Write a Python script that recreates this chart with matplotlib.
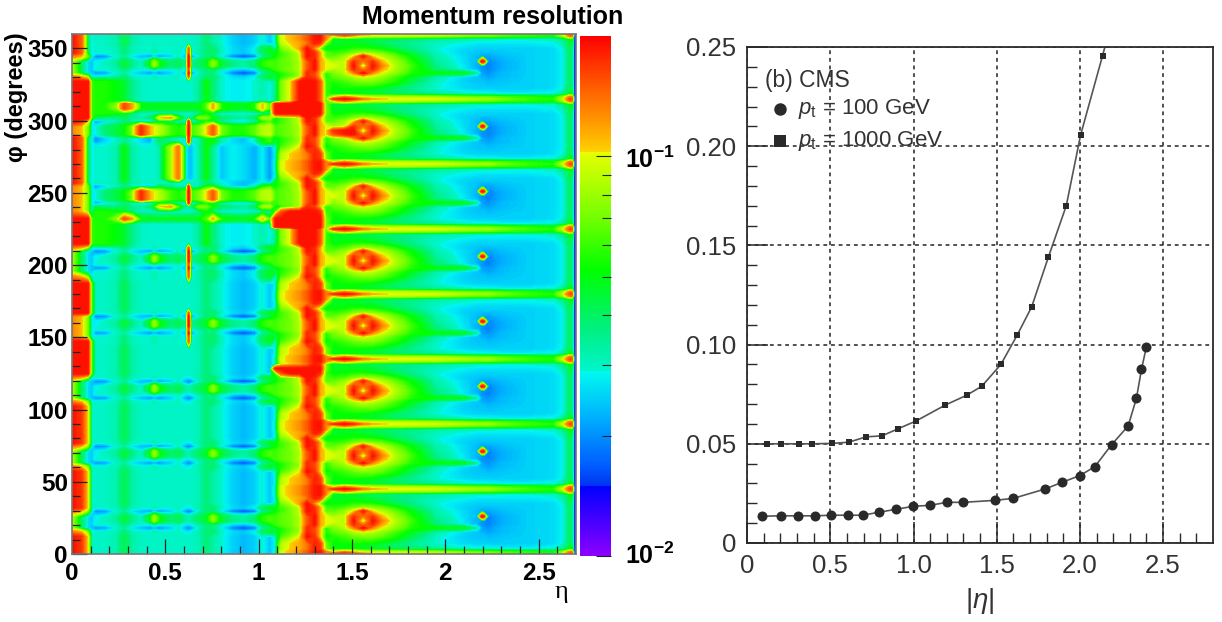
import numpy as np
import matplotlib
matplotlib.use("Agg")
import matplotlib.pyplot as plt
from matplotlib.cm import ScalarMappable
from matplotlib.colors import LinearSegmentedColormap, LogNorm
from matplotlib.ticker import FixedLocator, NullFormatter

plt.rcParams["font.family"] = ["Liberation Sans", "DejaVu Sans"]
plt.rcParams["mathtext.fontset"] = "custom"
plt.rcParams["mathtext.rm"] = "Liberation Sans"
plt.rcParams["mathtext.it"] = "Liberation Sans:italic"
plt.rcParams["mathtext.bf"] = "Liberation Sans:bold"

# ---- right panel ----
circle_eta = [0.09, 0.205, 0.305, 0.405, 0.505, 0.605, 0.696, 0.79, 0.896, 0.998, 1.1, 1.2,
              1.3, 1.49, 1.6, 1.79, 1.89, 2.0, 2.09, 2.19, 2.29, 2.34, 2.37, 2.4]
circle_res = [0.0135, 0.0137, 0.0137, 0.0137, 0.014, 0.014, 0.014, 0.0155, 0.017, 0.0185, 0.019,
              0.0205, 0.0205, 0.0215, 0.0225, 0.0272, 0.0305, 0.034, 0.0385, 0.0495, 0.059,
              0.073, 0.0875, 0.099]
square_eta = [0.12, 0.205, 0.31, 0.39, 0.51, 0.61, 0.715, 0.81, 0.905, 1.015, 1.19, 1.32, 1.41,
              1.525, 1.623, 1.71, 1.81, 1.918, 2.004, 2.136]
square_res = [0.05, 0.05, 0.05, 0.05, 0.0502, 0.0508, 0.0535, 0.054, 0.0575, 0.0615, 0.0695,
              0.0745, 0.079, 0.09, 0.1048, 0.119, 0.144, 0.17, 0.2056, 0.2456]

# ---- left panel: eta nodes of each detector region ----
left_eta = [0.0, 0.05, 0.085, 0.105]
barrel_eta = [0.125, 0.18, 0.24, 0.28, 0.32, 0.37, 0.42, 0.44, 0.47, 0.53, 0.57, 0.61, 0.625,
              0.64, 0.68, 0.72, 0.755, 0.80, 0.86, 0.92, 0.98, 1.02, 1.06]
trans_eta = [1.09, 1.12, 1.17, 1.22, 1.26, 1.30, 1.33, 1.36]
endcap_eta = [1.40, 1.46, 1.51, 1.56, 1.61, 1.66, 1.73, 1.82, 1.95, 2.10, 2.17, 2.195, 2.205,
              2.23, 2.30, 2.45, 2.58, 2.63, 2.67, 2.68]
edge_eta = [2.69, 2.70]
edge_res = [14, 14]

# phi nodes inside one 45 degree sector
phi_offsets = [0, 1.5, 3.5, 7, 12, 15.5, 18, 20.5, 23, 26, 29.5, 32, 35, 38.5, 41.5, 43.5]
sector_starts = [0, 45, 90, 135, 180, 225, 270, 315]

# resolution x 1000, one profile per kind of phi row
left_rows = {
    "a": [190, 170, 100, 30],
    "b": [190, 190, 190, 60],
    "c": [80, 40, 26, 24],
    "d": [190, 150, 40, 28],
    "e": [130, 110, 70, 28],
}
barrel_rows = {
    "a": [30, 30, 32, 42, 33, 30, 30, 30, 30, 30, 30, 30, 30, 30, 31, 38, 33, 29, 25, 23, 25, 29, 24],
    "e": [29, 29, 31, 38, 31, 29, 29, 32, 29, 29, 30, 27, 27, 28, 32, 38, 40, 30, 26, 24, 28, 40, 48],
    "c": [19, 20, 29, 33, 26, 23, 19, 22, 19, 24, 29, 20, 17, 20, 29, 38, 36, 27, 18, 15, 18, 32, 40],
    "d": [28, 30, 34, 45, 36, 29, 50, 80, 50, 38, 42, 33, 31, 34, 40, 46, 75, 45, 36, 33, 38, 55, 62],
    "E": [29, 29, 31, 38, 31, 29, 29, 32, 29, 29, 30, 27, 150, 28, 32, 38, 40, 30, 26, 24, 28, 40, 48],
    "C": [19, 20, 29, 33, 26, 23, 19, 22, 19, 24, 29, 20, 190, 20, 29, 38, 36, 27, 18, 15, 18, 32, 40],
    "D": [28, 30, 34, 45, 36, 29, 50, 80, 50, 38, 42, 33, 190, 34, 40, 46, 75, 45, 36, 33, 38, 55, 62],
    "g": [55, 55, 50, 46, 36, 30, 29, 29, 29, 29, 29, 29, 29, 29, 34, 50, 38, 29, 28, 28, 29, 32, 28],
    "h": [55, 55, 75, 160, 120, 50, 48, 48, 48, 48, 48, 48, 48, 48, 48, 62, 115, 55, 50, 48, 55, 110, 60],
    "i": [28, 38, 44, 50, 70, 175, 110, 100, 85, 60, 55, 60, 190, 60, 70, 100, 150, 70, 55, 55, 65, 85, 90],
    "j": [29, 29, 32, 50, 33, 29, 29, 29, 32, 80, 135, 28, 24, 24, 32, 50, 34, 24, 28, 26, 22, 28, 20],
    "k": [20, 26, 30, 36, 30, 26, 22, 30, 40, 35, 30, 28, 180, 28, 32, 50, 50, 32, 26, 24, 30, 50, 60],
    "l": [40, 36, 36, 42, 36, 32, 40, 50, 105, 120, 60, 34, 34, 36, 75, 70, 50, 40, 36, 34, 40, 80, 85],
}
trans_rows = {
    "a": [30, 95, 110, 125, 150, 185, 190, 130],
    "b": [28, 85, 105, 115, 135, 180, 165, 70],
    "c": [30, 60, 75, 100, 190, 170, 100, 50],
    "d": [45, 55, 65, 80, 175, 160, 105, 55],
    "e": [60, 65, 70, 85, 150, 190, 115, 100],
    "f": [50, 60, 70, 90, 190, 175, 115, 65],
    "g": [30, 70, 85, 120, 190, 120, 70, 45],
    "h": [190, 190, 190, 190, 190, 190, 190, 70],
    "i": [60, 150, 190, 190, 190, 190, 170, 60],
    "j": [35, 70, 100, 190, 190, 190, 150, 60],
}
endcap_rows = {
    "a": [170, 190, 170, 130, 115, 105, 100, 100, 95, 85, 80, 80, 80, 80, 70, 60, 55, 90, 160, 150],
    "b": [90, 130, 105, 90, 85, 85, 85, 82, 78, 68, 65, 65, 65, 65, 60, 55, 50, 75, 135, 125],
    "c": [50, 50, 50, 48, 46, 44, 40, 38, 34, 30, 29, 29, 29, 29, 28, 28, 29, 34, 50, 48],
    "d": [50, 52, 52, 50, 48, 45, 40, 35, 29, 26, 25, 25, 25, 25, 25, 25, 26, 29, 42, 38],
    "e": [55, 60, 66, 70, 70, 64, 55, 42, 30, 25, 24, 24, 24, 23, 24, 25, 26, 28, 40, 36],
    "f": [65, 72, 85, 95, 88, 78, 62, 48, 32, 26, 24, 22, 22, 21, 23, 25, 26, 28, 40, 36],
    "g": [72, 85, 125, 190, 125, 95, 75, 55, 50, 48, 32, 21, 21, 20, 23, 25, 26, 28, 40, 36],
    "h": [80, 90, 175, 130, 175, 115, 82, 58, 38, 27, 23, 20, 20, 19, 22, 25, 26, 28, 40, 36],
    "i": [100, 85, 190, 65, 190, 130, 85, 60, 36, 27, 22, 20, 20, 19, 22, 25, 26, 28, 40, 36],
    "j": [80, 90, 170, 130, 170, 110, 80, 55, 34, 26, 23, 190, 190, 19, 22, 25, 26, 28, 40, 36],
    "k": [65, 78, 105, 185, 105, 88, 68, 50, 32, 26, 23, 21, 21, 21, 23, 25, 26, 28, 40, 36],
    "l": [58, 62, 72, 78, 76, 68, 55, 42, 30, 25, 24, 23, 23, 23, 24, 25, 26, 28, 40, 36],
    "m": [50, 52, 55, 55, 52, 48, 42, 36, 29, 26, 25, 25, 25, 25, 25, 25, 26, 29, 42, 38],
    "n": [48, 48, 48, 46, 44, 42, 38, 35, 30, 28, 27, 27, 27, 27, 27, 27, 28, 31, 44, 42],
    "o": [45, 46, 45, 44, 42, 40, 38, 36, 33, 31, 30, 30, 30, 30, 29, 29, 30, 36, 52, 50],
    "q": [150, 180, 190, 130, 175, 115, 82, 58, 38, 27, 23, 20, 20, 19, 22, 25, 26, 28, 40, 36],
    "r": [170, 190, 190, 65, 190, 130, 85, 60, 36, 27, 22, 20, 20, 19, 22, 25, 26, 28, 40, 36],
}

# which profile each phi node of each sector uses
left_keys = ["aaaaaecccceaaaaa", "aaaaaecccceaaaaa", "aaaaaecccccebbbb", "bbbbbeeeeeebbbbb",
             "bbbbeccccccebbbb", "bbbbeeeeeeeddddd", "dddddddeeeabbbbb", "bbbbbecccceddddd"]
barrel_keys = ["aaaaaeceddceaaaa", "aaaaaeceddceaaaa", "aaaaaeceddceaaaa", "aaaaEECEDDCEaaaa",
               "aaaaEECEDDCEgggg", "ggghglkiiikajjjj", "jjjjjkkiiiklghhg", "gggggECEDDCEEaaa"]
trans_keys = ["aabbcddeeeffgbaa", "aabbcddeeeffgbaa", "aabbcddeeeffihba", "aabbcddeeeffgbaa",
              "aabbcddeeeffjjjj", "jhhhideeeeffgbaa", "aabbcddeeeffhhhj", "jjjjjddeeeffgbaa"]
endcap_keys = ["abcdefghijklmnob", "abcdefghijklmnob", "abcdefghijklmnob", "abcdefghijklmnob",
               "abcdefghijklmnob", "abcdefghijklmnob", "abcdefgqrjklmnob", "abcdefghijklmnob"]

# palette as seen on the colour bar (position, colour)
palette = [(0.000, (140, 0, 255)), (0.133, (0, 0, 255)), (0.134, (0, 50, 240)), (0.171, (0, 90, 255)),
           (0.260, (0, 170, 255)), (0.354, (0, 250, 240)), (0.355, (0, 245, 205)), (0.435, (0, 240, 130)),
           (0.550, (0, 255, 0)), (0.646, (110, 255, 0)), (0.733, (190, 255, 0)), (0.778, (230, 255, 0)),
           (0.779, (255, 210, 0)), (0.838, (255, 150, 0)), (0.906, (255, 90, 0)), (1.000, (255, 0, 0))]

W, H = 1222, 622


def add_axes_px(fig, left, top, right, bottom):
    return fig.add_axes([left / W, 1 - bottom / H, (right - left) / W, (bottom - top) / H])


def build_map():
    eta = left_eta + barrel_eta + trans_eta + endcap_eta + edge_eta
    phi = []
    rows = []
    for s, start in enumerate(sector_starts):
        for i, off in enumerate(phi_offsets):
            phi.append(start + off)
            rows.append(left_rows[left_keys[s][i]] + barrel_rows[barrel_keys[s][i]]
                        + trans_rows[trans_keys[s][i]] + endcap_rows[endcap_keys[s][i]] + edge_res)
    phi.append(360)
    rows.append(left_rows["d"] + barrel_rows["a"] + trans_rows["a"] + endcap_rows["a"] + edge_res)
    return np.array(eta), np.array(phi), np.array(rows) / 1000.0


def draw_map(fig):
    ax = add_axes_px(fig, 72, 34, 576, 554)
    cax = add_axes_px(fig, 579.5, 36, 611, 556)

    stops = [(p, tuple(c / 255 for c in col)) for p, col in palette]
    cmap = LinearSegmentedColormap.from_list("root_rainbow", stops, N=512)
    norm = LogNorm(vmin=0.01, vmax=0.2)

    eta, phi, res = build_map()
    levels = np.logspace(-2, np.log10(0.2), 140)
    ax.contourf(eta, phi, res, levels=levels, cmap=cmap, norm=norm, extend="both", antialiased=False)

    ax.set_xlim(0, 2.7)
    ax.set_ylim(0, 360)
    ax.set_xticks([0, 0.5, 1, 1.5, 2, 2.5])
    ax.set_xticklabels(["0", "0.5", "1", "1.5", "2", "2.5"], fontsize=17.5, fontweight="bold")
    ax.set_xticks(np.arange(0, 2.7, 0.1), minor=True)
    ax.set_yticks(range(0, 351, 50))
    ax.set_yticklabels([str(v) for v in range(0, 351, 50)], fontsize=17.5, fontweight="bold")
    ax.set_yticks(range(0, 360, 10), minor=True)
    ax.tick_params(which="major", direction="in", length=10.5, width=0.9, color="#222222")
    ax.tick_params(which="minor", direction="in", length=5.5, width=0.9, color="#222222")
    ax.tick_params(axis="x", which="major", pad=6)
    ax.tick_params(axis="y", which="major", pad=3)
    for spine in ax.spines.values():
        spine.set_linewidth(1.2)
        spine.set_color("#777777")

    fig.text(17 / W, 1 - 97 / H, "φ (degrees)", rotation=90, ha="center", va="center",
             fontsize=17, fontweight="bold")
    fig.text(561 / W, 1 - 592 / H, "η", ha="center", va="center", fontsize=19,
             family=["Liberation Serif", "DejaVu Sans"])
    fig.text(493 / W, 1 - 17 / H, "Momentum resolution", ha="center", va="center",
             fontsize=18, fontweight="bold")

    fig.colorbar(ScalarMappable(norm=norm, cmap=cmap), cax=cax)
    cax.yaxis.set_major_locator(FixedLocator([0.01, 0.1]))
    cax.yaxis.set_minor_locator(FixedLocator([0.02, 0.03, 0.04, 0.05, 0.06, 0.07, 0.08, 0.09]))
    cax.yaxis.set_major_formatter(NullFormatter())
    cax.yaxis.set_minor_formatter(NullFormatter())
    cax.tick_params(which="major", direction="in", length=11, width=0.8, color="#222222")
    cax.tick_params(which="minor", direction="in", length=6.5, width=0.8, color="#222222")
    for spine in cax.spines.values():
        spine.set_visible(False)
    fig.text(625 / W, 1 - 160 / H, r"$\mathbf{10^{-1}}$", va="center", fontsize=18)
    fig.text(625 / W, 1 - 556 / H, r"$\mathbf{10^{-2}}$", va="center", fontsize=18)


def draw_curves(fig):
    ax = add_axes_px(fig, 747.2, 47, 1213, 543)
    ink = "#2a2a2a"

    ax.plot(circle_eta, circle_res, "-", color="#555555", lw=1.2)
    ax.plot(square_eta + [2.15], square_res + [0.25], "-", color="#555555", lw=1.2)
    ax.plot(circle_eta, circle_res, "o", color=ink, ms=7.2, mew=0)
    ax.plot(square_eta, square_res, "s", color=ink, ms=4.6, mew=0)

    ax.set_xlim(0, 2.8)
    ax.set_ylim(0, 0.25)
    ax.set_xticks([0, 0.5, 1.0, 1.5, 2.0, 2.5])
    ax.set_xticklabels(["0", "0.5", "1.0", "1.5", "2.0", "2.5"])
    ax.set_xticks(np.arange(0, 2.8, 0.1), minor=True)
    ax.set_yticks([0, 0.05, 0.10, 0.15, 0.20, 0.25])
    ax.set_yticklabels(["0", "0.05", "0.10", "0.15", "0.20", "0.25"])
    ax.set_yticks(np.arange(0, 0.25, 0.01), minor=True)
    ax.tick_params(which="major", direction="in", length=15, width=1.1, labelsize=18.5,
                   color=ink, labelcolor="#333333", pad=8)
    ax.tick_params(which="minor", direction="in", length=7.2, width=1.0, color=ink)
    ax.grid(True, which="major", color="#222222", lw=1.1, ls=(0, (2.5, 2.5)))
    ax.set_axisbelow(True)
    for spine in ax.spines.values():
        spine.set_linewidth(1.3)
        spine.set_color(ink)

    ax.set_xlabel(r"$|\eta|$", fontsize=20, color="#333333", labelpad=6)

    ax.text(0.038, 0.933, "(b) CMS", transform=ax.transAxes, fontsize=16.5, va="center", color="#333333")
    ax.plot([0.0704], [0.876], "o", color=ink, ms=9, mew=0, transform=ax.transAxes)
    ax.plot([0.0704], [0.8105], "s", color=ink, ms=8.4, mew=0, transform=ax.transAxes)
    ax.text(0.1086, 0.876, r"$p_{\mathrm{t}}$ = 100 GeV", transform=ax.transAxes, fontsize=16,
            va="center", color="#333333")
    ax.text(0.1086, 0.8105, r"$p_{\mathrm{t}}$ = 1000 GeV", transform=ax.transAxes, fontsize=16,
            va="center", color="#333333")


def main():
    fig = plt.figure(figsize=(W / 100, H / 100), dpi=100)
    draw_map(fig)
    draw_curves(fig)
    fig.savefig("out.png", dpi=100)


if __name__ == "__main__":
    main()
